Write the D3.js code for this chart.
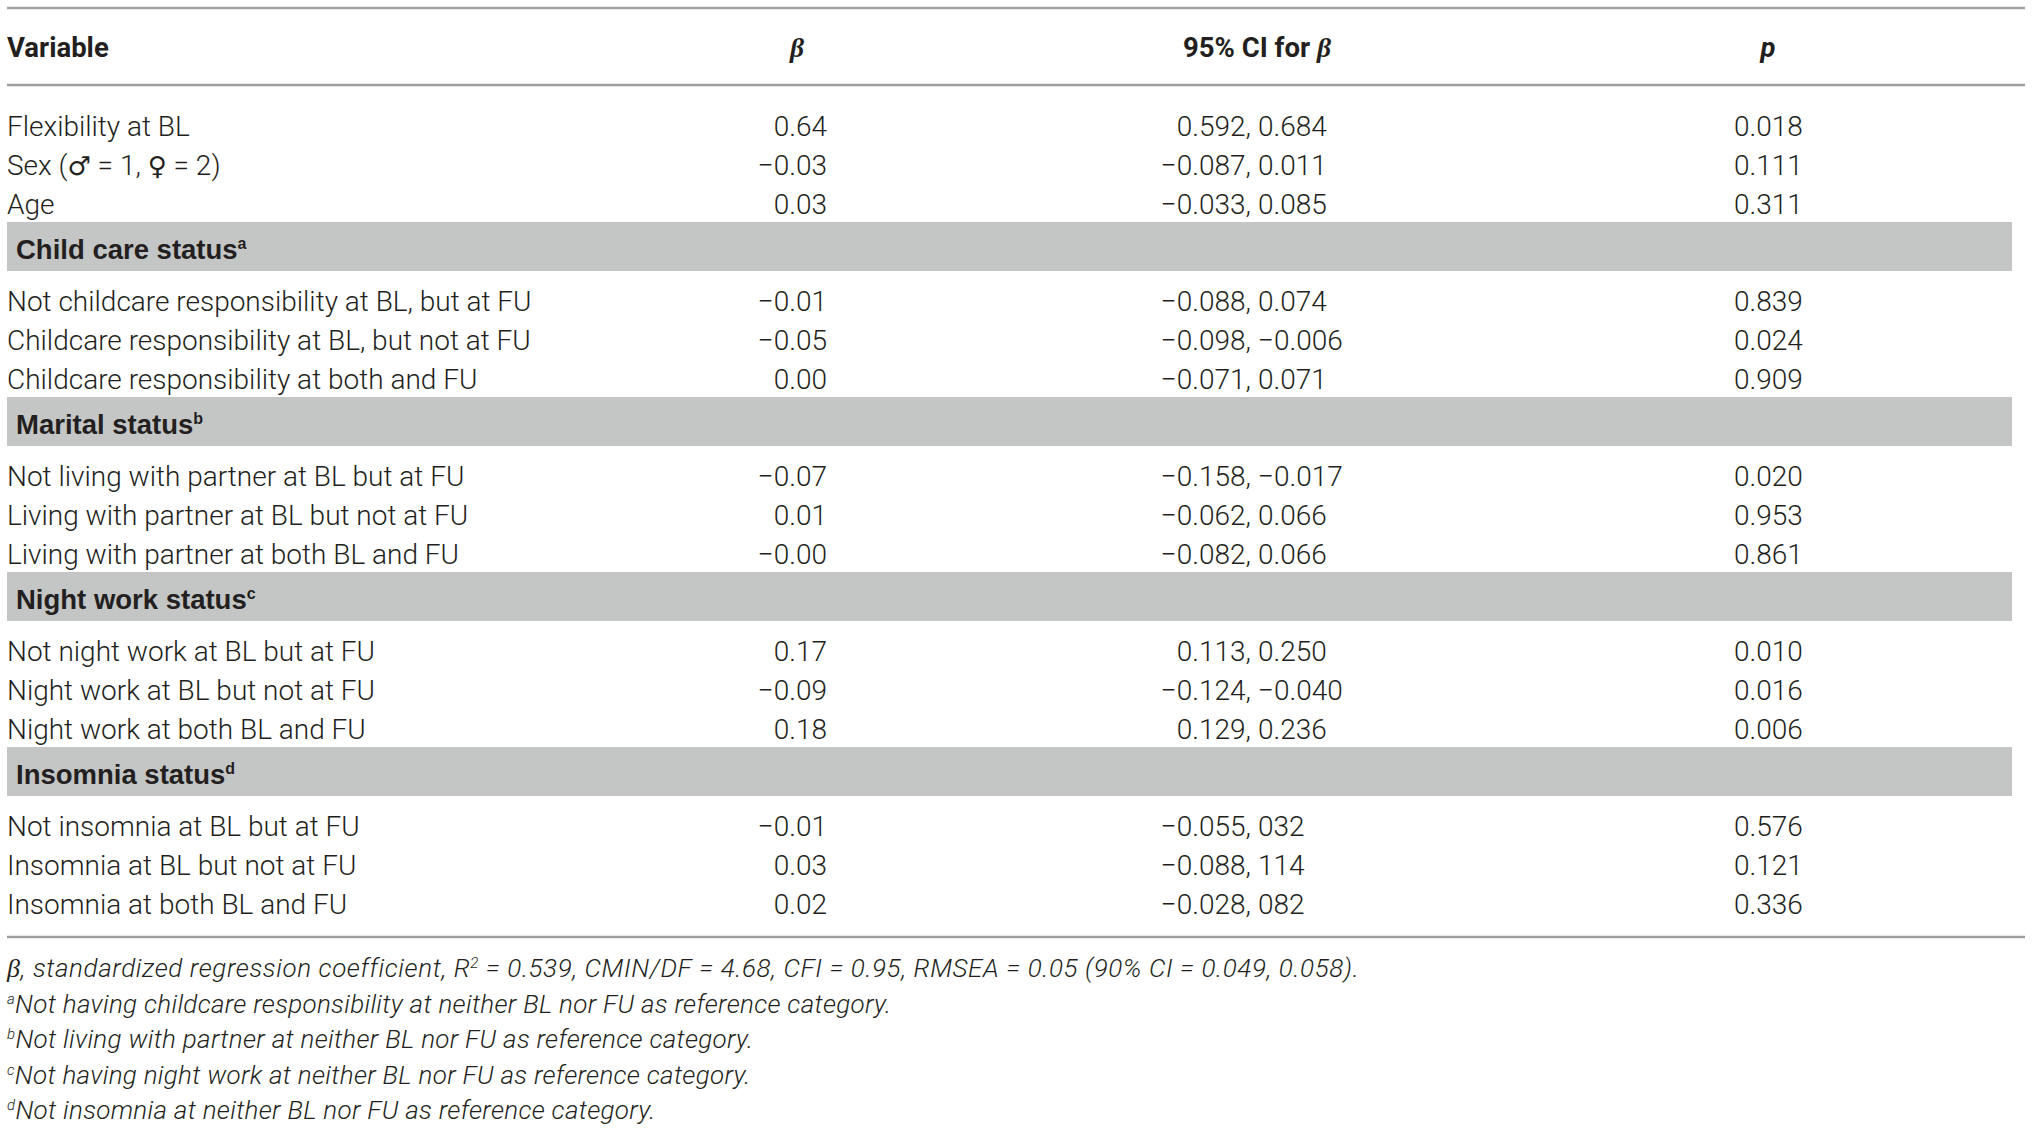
<!DOCTYPE html>
<html>
<head>
<meta charset="utf-8">
<script src="https://cdn.jsdelivr.net/npm/d3@7"></script>
<style>
	body { margin: 0; background: #fff; }
	svg { display: block; }
	text { fill: #231f20; font-family: Roboto, "Liberation Sans", sans-serif; }
	.bold { font-family: "Liberation Sans", Arial, sans-serif; font-weight: 700; }
	.greek { font-family: "Liberation Serif", serif; }
	.sym { font-family: "DejaVu Sans", sans-serif; font-weight: 400; font-size: 26px; }
</style>
</head>
<body>
<div id="table"></div>
<script>
// table content
var rowLabels = [
	"Flexibility at BL", "Sex (\u2642 = 1, \u2640 = 2)", "Age",
	"Not childcare responsibility at BL, but at FU", "Childcare responsibility at BL, but not at FU", "Childcare responsibility at both and FU",
	"Not living with partner at BL but at FU", "Living with partner at BL but not at FU", "Living with partner at both BL and FU",
	"Not night work at BL but at FU", "Night work at BL but not at FU", "Night work at both BL and FU",
	"Not insomnia at BL but at FU", "Insomnia at BL but not at FU", "Insomnia at both BL and FU"
];
var betas = ["0.64", "\u22120.03", "0.03", "\u22120.01", "\u22120.05", "0.00", "\u22120.07", "0.01", "\u22120.00", "0.17", "\u22120.09", "0.18", "\u22120.01", "0.03", "0.02"];
var ciLow = ["0.592", "\u22120.087", "\u22120.033", "\u22120.088", "\u22120.098", "\u22120.071", "\u22120.158", "\u22120.062", "\u22120.082", "0.113", "\u22120.124", "0.129", "\u22120.055", "\u22120.088", "\u22120.028"];
var ciHigh = ["0.684", "0.011", "0.085", "0.074", "\u22120.006", "0.071", "\u22120.017", "0.066", "0.066", "0.250", "\u22120.040", "0.236", "032", "114", "082"];
var pValues = ["0.018", "0.111", "0.311", "0.839", "0.024", "0.909", "0.020", "0.953", "0.861", "0.010", "0.016", "0.006", "0.576", "0.121", "0.336"];
var groupTitles = ["Child care status", "Marital status", "Night work status", "Insomnia status"];
var groupMarks = ["a", "b", "c", "d"];
var groupAfterRow = [2, 5, 8, 11];
var footnoteMarks = ["", "a", "b", "c", "d"];
var footnoteTexts = [
	"",
	"Not having childcare responsibility at neither BL nor FU as reference category.",
	"Not living with partner at neither BL nor FU as reference category.",
	"Not having night work at neither BL nor FU as reference category.",
	"Not insomnia at neither BL nor FU as reference category."
];

var width = 2032, height = 1131;
var fontSize = 28, boldSize = 27.5, noteSize = 26;
var rowPitch = 39, bandStep = 58, bandHeight = 49;
var shift = 10; // baseline offset from a row's middle

var svg = d3.select("#table").append("svg")
	.attr("width", width)
	.attr("height", height);

// column positions
var colX = d3.scaleOrdinal()
	.domain(["label", "beta", "ci", "p"])
	.range([7, 827, 1251, 1734]);
var headX = d3.scaleOrdinal()
	.domain(["label", "beta", "ci", "p"])
	.range([7, 797, 1257, 1768]);

// stack rows and grey group bands top to bottom
var layout = [];
var y = 106;
rowLabels.forEach(function (d, i) {
	layout.push({ type: "row", i: i, top: y });
	y += rowPitch;
	var g = groupAfterRow.indexOf(i);
	if (g >= 0) {
		layout.push({ type: "band", g: g, top: y - 1 });
		y += bandStep;
	}
});
var bottomRule = y + 14;

// rules
[8, 85, bottomRule].forEach(function (ry) {
	svg.append("line")
		.attr("x1", 7).attr("x2", 2025)
		.attr("y1", ry).attr("y2", ry)
		.attr("stroke", "#9f9f9f")
		.attr("stroke-width", 2.5);
});

// header
var head = svg.append("g")
	.attr("class", "bold")
	.attr("font-size", boldSize);
head.append("text").attr("x", headX("label")).attr("y", 47 + shift).text("Variable");
head.append("text").attr("x", headX("beta")).attr("y", 47 + shift)
	.attr("class", "greek")
	.attr("text-anchor", "middle").attr("font-style", "italic").text("\u03B2");
var ciHead = head.append("text").attr("x", headX("ci")).attr("y", 47 + shift)
	.attr("text-anchor", "middle");
ciHead.append("tspan").text("95% CI for ");
ciHead.append("tspan").attr("class", "greek").attr("font-style", "italic").text("\u03B2");
head.append("text").attr("x", headX("p")).attr("y", 47 + shift)
	.attr("text-anchor", "middle").attr("font-style", "italic").text("p");

// grey group bands
var bands = svg.selectAll("g.band")
	.data(layout.filter(function (d) { return d.type == "band"; }))
	.enter().append("g")
	.attr("class", "band");
bands.append("rect")
	.attr("x", 7)
	.attr("width", 2005)
	.attr("y", function (d) { return d.top; })
	.attr("height", bandHeight)
	.attr("fill", "#c4c5c5");
var bandText = bands.append("text")
	.attr("class", "bold")
	.attr("x", 16)
	.attr("y", function (d) { return d.top + bandHeight / 2 + 2 + shift; })
	.attr("font-size", boldSize);
bandText.append("tspan").text(function (d) { return groupTitles[d.g]; });
bandText.append("tspan")
	.attr("font-size", 16)
	.attr("dy", -10)
	.text(function (d) { return groupMarks[d.g]; });

// data rows
var rows = svg.selectAll("g.row")
	.data(layout.filter(function (d) { return d.type == "row"; }))
	.enter().append("g")
	.attr("class", "row")
	.attr("font-size", fontSize)
	.attr("font-weight", 300)
	.attr("transform", function (d) { return "translate(0," + (d.top + rowPitch / 2 + shift) + ")"; });
rows.append("text")
	.attr("x", colX("label"))
	.each(function (d) {
		// sex symbols need a font that has them
		var t = d3.select(this);
		rowLabels[d.i].split(/([\u2642\u2640])/).forEach(function (part) {
			if (!part) return;
			var s = t.append("tspan").text(part);
			if (part == "\u2642" || part == "\u2640") s.attr("class", "sym");
		});
	});
rows.append("text")
	.attr("x", colX("beta"))
	.attr("text-anchor", "end")
	.text(function (d) { return betas[d.i]; });
// interval aligned on the comma
rows.append("text")
	.attr("x", colX("ci"))
	.attr("text-anchor", "end")
	.text(function (d) { return ciLow[d.i] + ","; });
rows.append("text")
	.attr("x", colX("ci") + 7)
	.text(function (d) { return ciHigh[d.i]; });
rows.append("text")
	.attr("x", colX("p"))
	.text(function (d) { return pValues[d.i]; });

// footnotes
var notes = svg.append("g")
	.attr("font-size", noteSize)
	.attr("font-style", "italic")
	.attr("font-weight", 300)
	.attr("letter-spacing", 0.3);
var noteY = d3.scaleLinear().domain([0, 4]).range([968, 1110]);

var first = notes.append("text").attr("x", 7).attr("y", noteY(0) + 9)
	.attr("letter-spacing", 0.6);
first.append("tspan").attr("class", "greek").text("\u03B2");
first.append("tspan").text(", standardized regression coefficient, R");
first.append("tspan").attr("font-size", 15).attr("dy", -9).text("2");
first.append("tspan").attr("dy", 9).text(" = 0.539, CMIN/DF = 4.68, CFI = 0.95, RMSEA = 0.05 (90% CI = 0.049, 0.058).");

var rest = notes.selectAll("text.note")
	.data(d3.range(1, footnoteTexts.length))
	.enter().append("text")
	.attr("class", "note")
	.attr("x", 7)
	.attr("y", function (i) { return noteY(i) + 9; });
rest.append("tspan")
	.attr("font-size", 15)
	.attr("dy", -9)
	.text(function (i) { return footnoteMarks[i]; });
rest.append("tspan")
	.attr("dy", 9)
	.text(function (i) { return footnoteTexts[i]; });
</script>
</body>
</html>
